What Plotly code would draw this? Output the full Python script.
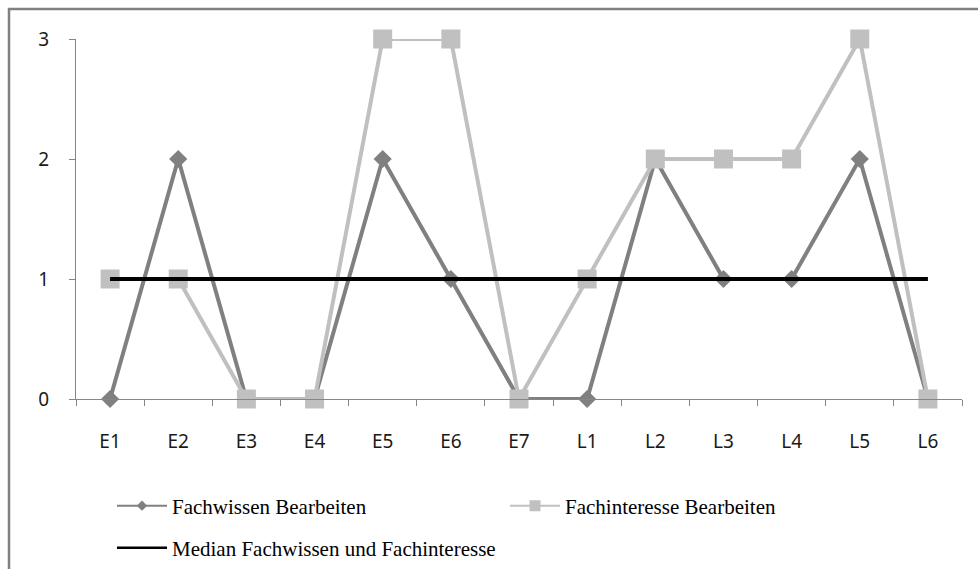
import plotly.graph_objects as go

categories = ["E1", "E2", "E3", "E4", "E5", "E6", "E7", "L1", "L2", "L3", "L4", "L5", "L6"]
fachwissen = [0, 2, 0, 0, 2, 1, 0, 0, 2, 1, 1, 2, 0]
fachinteresse = [1, 1, 0, 0, 3, 3, 0, 1, 2, 2, 2, 3, 0]
median = [1] * len(categories)
y_ticks = [0, 1, 2, 3]

names = ["Fachwissen Bearbeiten", "Fachinteresse Bearbeiten", "Median Fachwissen und Fachinteresse"]
c_fw = "#808080"
c_fi = "#c0c0c0"
c_med = "#000000"

W, H = 978, 569
ml, mr, mt, mb = 76, 16, 39, 170
pw, ph = W - ml - mr, H - mt - mb

fig = go.Figure()
fig.add_trace(go.Scatter(x=categories, y=fachwissen, mode="lines+markers", name=names[0],
                         line=dict(color=c_fw, width=4), marker=dict(symbol="diamond", size=14, color=c_fw),
                         cliponaxis=False, showlegend=False))
fig.add_trace(go.Scatter(x=categories, y=fachinteresse, mode="lines+markers", name=names[1],
                         line=dict(color=c_fi, width=4), marker=dict(symbol="square", size=19, color=c_fi),
                         cliponaxis=False, showlegend=False))
fig.add_trace(go.Scatter(x=categories, y=median, mode="lines", name=names[2],
                         line=dict(color=c_med, width=4), cliponaxis=False, showlegend=False))

# legend entries
fig.add_trace(go.Scatter(x=[None], y=[None], mode="lines+markers", name=names[0],
                         line=dict(color=c_fw, width=2), marker=dict(symbol="diamond", size=8, color=c_fw),
                         legend="legend"))
fig.add_trace(go.Scatter(x=[None], y=[None], mode="lines+markers", name=names[1],
                         line=dict(color=c_fi, width=2), marker=dict(symbol="square", size=11, color=c_fi),
                         legend="legend"))
fig.add_trace(go.Scatter(x=[None], y=[None], mode="lines", name=names[2],
                         line=dict(color=c_med, width=2.5), legend="legend2"))

def px_x(x):
    return (x - ml) / pw

def px_y(y):
    return (H - mb - y) / ph

legend_font = dict(family="Liberation Serif", size=21, color="#000000")
tick_font = dict(family="Noto Sans", size=19, color="#1a1a1a")

fig.update_layout(
    width=W, height=H,
    margin=dict(l=ml, r=mr, t=mt, b=mb),
    paper_bgcolor="white", plot_bgcolor="white",
    font=dict(family="Noto Sans", size=15, color="#000000"),
    xaxis=dict(type="category", range=[-0.5, len(categories) - 0.5], tickson="boundaries",
               ticks="outside", ticklen=6, tickcolor="#868686", showline=True, linecolor="#868686",
               linewidth=1, showgrid=False, zeroline=False, ticklabelstandoff=25, tickfont=tick_font),
    yaxis=dict(range=[0, 3], tickvals=y_ticks, ticks="outside", ticklen=6, tickcolor="#868686",
               showline=True, linecolor="#868686", linewidth=1, showgrid=False, zeroline=False,
               ticklabelstandoff=16, tickfont=tick_font),
    legend=dict(orientation="h", xref="container", yref="container", x=112 / W, y=1 - 506 / H,
                xanchor="left", yanchor="middle", entrywidth=328, entrywidthmode="pixels",
                font=legend_font, itemwidth=50, bgcolor="rgba(0,0,0,0)"),
    legend2=dict(orientation="h", xref="container", yref="container", x=112 / W, y=1 - 548 / H,
                 xanchor="left", yanchor="middle", font=legend_font, itemwidth=50,
                 bgcolor="rgba(0,0,0,0)"),
    shapes=[dict(type="rect", xref="paper", yref="paper",
                 x0=px_x(9), x1=px_x(990), y0=px_y(H + 20), y1=px_y(9),
                 line=dict(color="#808080", width=2.5), layer="below")],
)

fig.write_html("out.html", config={"displayModeBar": False},
               post_script="document.body.style.margin='0';")
